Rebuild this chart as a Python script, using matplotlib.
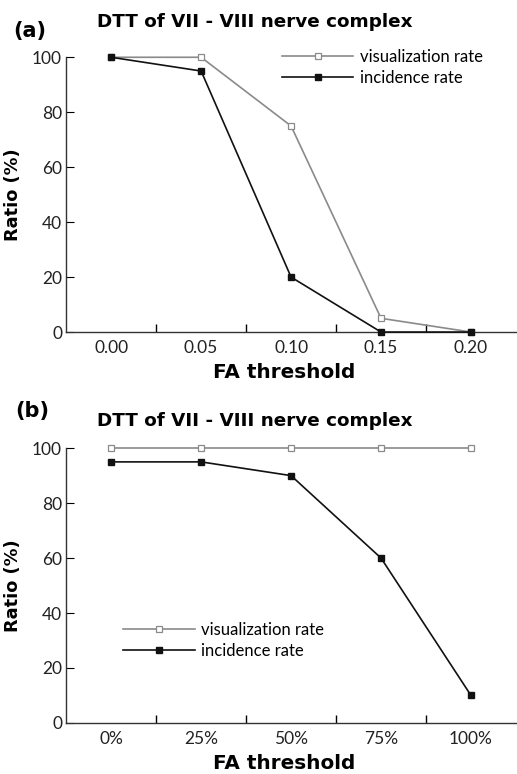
import matplotlib
matplotlib.use("Agg")
import matplotlib.pyplot as plt

plt.rcParams['font.family'] = ['DejaVu Sans']

cats_a = ["0.00", "0.05", "0.10", "0.15", "0.20"]
vis_a = [100, 100, 75, 5, 0]
inc_a = [100, 95, 20, 0, 0]

cats_b = ["0%", "25%", "50%", "75%", "100%"]
vis_b = [100, 100, 100, 100, 100]
inc_b = [95, 95, 90, 60, 10]

yticks = [0, 20, 40, 60, 80, 100]
title = "DTT of VII - VIII nerve complex"

fig = plt.figure(figsize=(5.17, 7.74), dpi=100)
tickfont = dict(family=['Lato', 'DejaVu Sans'], size=12.5)

def panel(rect, cats, vis, inc, label, leg_anchor, title_y, label_pos):
    ax = fig.add_axes(rect)
    x = list(range(len(cats)))
    ax.plot(x, vis, color="#8a8a8a", lw=1.2, marker="s", ms=4.5,
            mfc="white", mec="#8a8a8a", mew=0.9, clip_on=False,
            label="visualization rate", zorder=3)
    ax.plot(x, inc, color="#111111", lw=1.2, marker="s", ms=4.5,
            mfc="#111111", mec="#111111", clip_on=False,
            label="incidence rate", zorder=4)
    ax.set_xlim(-0.5, len(cats) - 0.5)
    ax.set_ylim(0, 100)
    ax.set_yticks(yticks)
    ax.set_yticklabels([str(v) for v in yticks], fontdict=tickfont, color="#222222")
    ax.set_xticks([i + 0.5 for i in range(len(cats) - 1)])
    ax.set_xticklabels([])
    ax.set_xticks(x, minor=True)
    ax.set_xticklabels(cats, minor=True, fontdict=tickfont, color="#222222")
    ax.tick_params(axis="x", which="major", direction="in", length=6, width=1)
    ax.tick_params(axis="x", which="minor", length=0, pad=6)
    ax.tick_params(axis="y", direction="in", length=6, width=0.8, pad=3)
    for s in ("top", "right"):
        ax.spines[s].set_visible(False)
    for s in ("left", "bottom"):
        ax.spines[s].set_color("#333333")
        ax.spines[s].set_linewidth(1.0)
    ax.set_xlabel("FA threshold", fontsize=14.4, fontweight="bold")
    ax.xaxis.set_label_coords(0.484, -0.113)
    ax.set_ylabel("Ratio (%)", fontsize=12.8, fontweight="bold")
    ax.yaxis.set_label_coords(-0.098, 0.5)
    ax.text(0.069, title_y, title, transform=ax.transAxes, fontsize=13.2,
            fontweight="bold", ha="left", va="baseline")
    ax.text(label_pos[0], label_pos[1], label, transform=ax.transAxes,
            fontsize=15, fontweight="bold", ha="left", va="baseline")
    ax.legend(loc="upper left", bbox_to_anchor=leg_anchor,
              bbox_transform=fig.transFigure, frameon=False,
              prop=dict(family=['Lato', 'DejaVu Sans'], size=12),
              handlelength=4.3, handletextpad=0.4, labelspacing=0.3,
              borderaxespad=0.0, borderpad=0.0)
    return ax

panel([0.128, 0.571, 0.870, 0.355], cats_a, vis_a, inc_a, "(a)",
      (0.545, 0.937), 1.109, (-0.118, 1.073))
panel([0.128, 0.066, 0.870, 0.355], cats_b, vis_b, inc_b, "(b)",
      (0.238, 0.197), 1.080, (-0.113, 1.113))

fig.savefig("out.png", dpi=100)
